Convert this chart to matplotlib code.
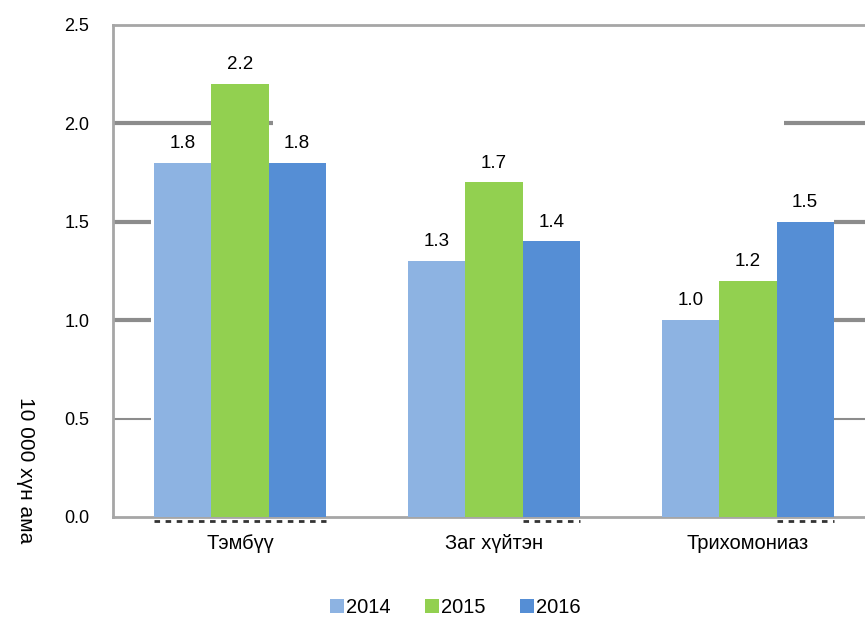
import numpy as np
import matplotlib.pyplot as plt

# Chart data
categories = ["Тэмбүү", "Заг хүйтэн", "Трихомониаз"]
years = ["2014", "2015", "2016"]
values_2014 = [1.8, 1.3, 1.0]
values_2015 = [2.2, 1.7, 1.2]
values_2016 = [1.8, 1.4, 1.5]
y_ticks = [0.0, 0.5, 1.0, 1.5, 2.0, 2.5]
y_label = "10 000 хүн ама"

colors = ["#8DB3E2", "#92D050", "#558ED5"]
grid_color = "#8C8C8C"
spine_color = "#A6A6A6"

plt.rcParams['font.family'] = ['Liberation Sans', 'DejaVu Sans']

fig = plt.figure(figsize=(8.65, 6.21), dpi=100)
ax = fig.add_axes([0.1306, 0.1675, 0.881, 0.7923])

x = np.arange(len(categories))
width = 0.225
series = [values_2014, values_2015, values_2016]

for i, (vals, year, col) in enumerate(zip(series, years, colors)):
    pos = x + (i - 1) * width
    ax.bar(pos, vals, width, color=col, label=year, zorder=3)
    for px, v in zip(pos, vals):
        ax.text(px, v + 0.055, f"{v:.1f}", ha='center', va='bottom',
                fontsize=13.5, zorder=4)

# partial grid segments, as in the original rendering
ax.hlines(2.0, -0.5, 0.13, color=grid_color, lw=3, zorder=1)
ax.hlines(2.0, 2.14, 2.5, color=grid_color, lw=3, zorder=1)
for yv, lw in [(1.5, 3), (1.0, 3), (0.5, 1.5)]:
    ax.hlines(yv, -0.5, -0.35, color=grid_color, lw=lw, zorder=1)
    ax.hlines(yv, 2.34, 2.5, color=grid_color, lw=lw, zorder=1)

# dashed marks below the baseline
ax.hlines(-0.02, x[0] - 1.5 * width, x[0] + 1.5 * width, color='#333333',
          lw=2, linestyles=(0, (2, 2)), clip_on=False, zorder=2)
for c in [1, 2]:
    ax.hlines(-0.02, x[c] + 0.5 * width, x[c] + 1.5 * width, color='#333333',
              lw=2, linestyles=(0, (2, 2)), clip_on=False, zorder=2)

ax.set_xlim(-0.5, 2.5)
ax.set_ylim(0, 2.5)
ax.set_yticks(y_ticks)
ax.set_yticklabels([f"{t:.1f}" for t in y_ticks], fontsize=13)
ax.set_xticks(x)
ax.set_xticklabels(categories, fontsize=14.5)
ax.tick_params(axis='y', length=0, pad=17)
ax.tick_params(axis='x', length=0, pad=12)

for side in ['left', 'top', 'bottom']:
    ax.spines[side].set_color(spine_color)
    ax.spines[side].set_linewidth(2)
ax.spines['right'].set_visible(False)

fig.text(0.029, 0.243, y_label, rotation=270, ha='center', va='center',
         fontsize=15)

ax.legend(loc='center', bbox_to_anchor=(0.526, 0.021), bbox_transform=fig.transFigure,
          ncol=3, frameon=False, fontsize=14.5, handlelength=0.7, handleheight=0.7,
          handletextpad=0.1, columnspacing=1.7)

fig.savefig("out.png", dpi=100)
